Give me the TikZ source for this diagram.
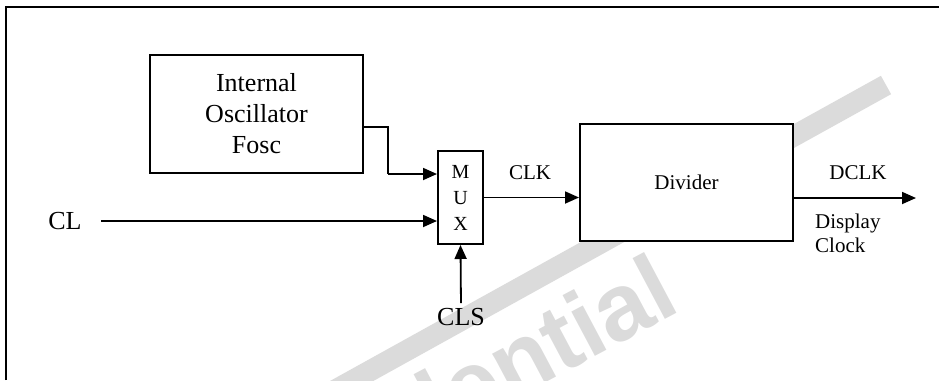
\documentclass[tikz,border=0pt]{standalone}
\usepackage{fontspec}
\setmainfont{Liberation Serif}
\newfontfamily\wmfont{Liberation Sans}
\usetikzlibrary{arrows.meta}
\tikzset{
  blk/.style={draw, line width=2pt, fill=white, inner sep=0pt, align=center},
  arr/.style={line width=1.8pt, -{Triangle[length=14pt,width=12pt]}},
  big/.style={font=\fontsize{26}{31}\selectfont, inner sep=1pt, align=center},
  small/.style={font=\fontsize{21}{24}\selectfont, inner sep=1pt, align=center},
  wm/.style={text=black!14, font=\wmfont\bfseries\fontsize{95}{95}\selectfont, inner sep=0pt}
}
\begin{document}
\begin{tikzpicture}[x=1pt,y=-1pt]
\useasboundingbox (0,0) rectangle (939,380);
\begin{scope}
\clip (0,0) rectangle (939,380);
% watermark
\draw[line width=21pt, black!14] (330,393) -- (886,85);
\node[wm, rotate=28, anchor=base east] (wmtext) at (683,310) {Confidential};
\end{scope}
% frame
\draw[line width=2pt] (6,380) -- (6,7) -- (939,7);
% blocks
\node[blk, big, minimum width=213pt, minimum height=118pt] (osc) at (256.5,114) {Internal\\Oscillator\\Fosc};
\node[blk, font=\fontsize{20}{26}\selectfont, minimum width=45pt, minimum height=93pt] (mux) at (460.5,197.5) {M\\U\\X};
\node[blk, small, minimum width=213pt, minimum height=117pt] (div) at (686.5,182.5) {Divider};
% labels
\node[big] (cl) at (65,221) {CL};
\node[big] (cls) at (461,317) {CLS};
\node[small] (clk) at (530,173) {CLK};
\node[small] (dclk) at (858,173) {DCLK};
\node[small, anchor=west, align=left, font=\fontsize{21}{24}\selectfont] (disp) at (814,233) {Display\\Clock};
% connectors
\coordinate (clstart) at (101,221);
\coordinate (oscout) at (363,127);
\coordinate (dout) at (916,198);
\draw[line width=1.8pt] (oscout) -- (388,127) -- (388,174);
\draw[arr] (388,174) -- ([yshift=23.5pt]mux.west);
\draw[arr] (clstart) -- ([yshift=-23.5pt]mux.west);
\draw[arr, shorten <=4pt] (cls.north) -- (mux.south);
\draw[arr] (mux.east) -- (mux.east -| div.west);
\draw[arr] (div.east |- dout) -- (dout);
\end{tikzpicture}
\end{document}
